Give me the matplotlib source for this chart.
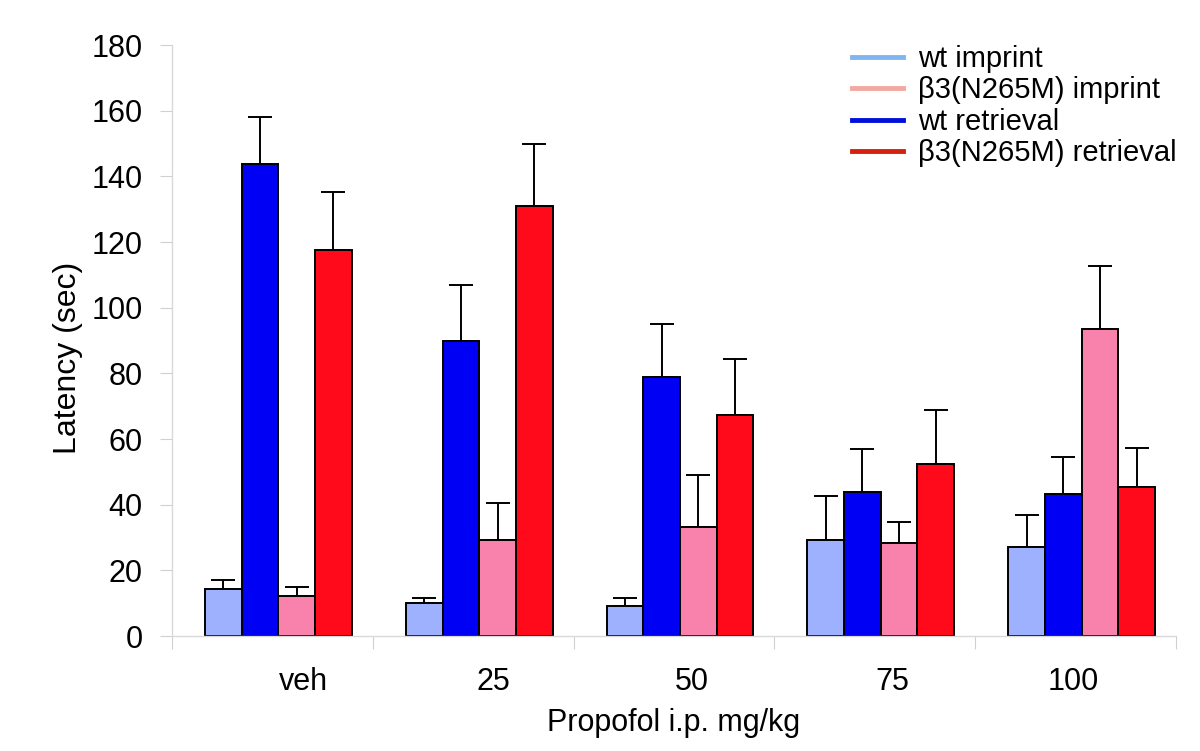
import numpy as np
import matplotlib
matplotlib.use("Agg")
import matplotlib.pyplot as plt
from matplotlib.lines import Line2D

plt.rcParams['font.family'] = ['Liberation Sans', 'DejaVu Sans']

# data
doses = ["veh", "25", "50", "75", "100"]
series = ["wt imprint", "β3(N265M) imprint", "wt retrieval", "β3(N265M) retrieval"]

wt_imprint = [14.4, 10.2, 9.2, 29.1, 27.0]
wt_imprint_err = [2.8, 1.4, 2.3, 13.5, 9.9]
wt_retrieval = [143.8, 90.0, 78.8, 44.0, 43.2]
wt_retrieval_err = [14.2, 17.0, 16.2, 12.9, 11.4]
b3_imprint = [12.2, 29.2, 33.2, 28.3, 93.6]
b3_imprint_err = [2.8, 11.2, 15.7, 6.4, 19.2]
b3_retrieval = [117.6, 131.0, 67.3, 52.4, 45.4]
b3_retrieval_err = [17.7, 19.0, 17.1, 16.4, 12.0]

# drawing order in each group (left to right)
bar_vals = [wt_imprint, wt_retrieval, b3_imprint, b3_retrieval]
bar_errs = [wt_imprint_err, wt_retrieval_err, b3_imprint_err, b3_retrieval_err]
bar_cols = ["#9db1ff", "#0000f5", "#f882ab", "#ff0a1a"]

legend_cols = ["#7fb6f2", "#f4a8a2", "#0010d8", "#d8200f"]

fig = plt.figure(figsize=(12, 7.51), dpi=100)
ax = fig.add_axes([0.1433, 0.1531, 0.8367, 0.7869])

x = np.arange(len(doses))
w = 0.1826
shift = 0.03
for k in range(4):
    pos = x + shift + (k - 1.5) * w
    ax.bar(pos, bar_vals[k], width=w, color=bar_cols[k], edgecolor="black",
           linewidth=1.4, zorder=2)
    ax.errorbar(pos, bar_vals[k], yerr=[np.zeros(len(doses)), bar_errs[k]],
                fmt="none", ecolor="black", elinewidth=1.4, capsize=8.6,
                capthick=1.4, zorder=1)

ax.set_xlim(-0.5, len(doses) - 0.5)
ax.set_ylim(0, 180)
ax.set_yticks(np.arange(0, 181, 20))

# group boundary ticks, labels placed separately
ax.set_xticks(np.arange(-0.5, len(doses), 1.0))
ax.set_xticklabels([])
label_off = [0.154, 0.1, 0.09, 0.085, -0.01]
ax.set_xticks(x + np.array(label_off), minor=True)
ax.set_xticklabels(doses, minor=True, fontsize=22)
ax.tick_params(axis="x", which="minor", length=0, pad=22)
ax.tick_params(axis="x", which="major", length=9, color="#d0d0d0", direction="out")
ax.tick_params(axis="y", length=9, color="#d0d0d0", labelsize=22, pad=12)

for s in ["top", "right"]:
    ax.spines[s].set_visible(False)
for s in ["left", "bottom"]:
    ax.spines[s].set_color("#d9d9d9")
    ax.spines[s].set_linewidth(1.0)

ax.set_ylabel("Latency (sec)", fontsize=23)
ax.yaxis.set_label_coords(-0.089, 0.47)
ax.set_xlabel("Propofol i.p. mg/kg", fontsize=22, labelpad=8)

handles = [Line2D([0], [0], color=c, linewidth=3.5) for c in legend_cols]
ax.legend(handles, series, loc="upper right", bbox_to_anchor=(1.018, 1.03),
          frameon=False, fontsize=21, handlelength=1.75, handletextpad=0.5,
          labelspacing=0.12, borderaxespad=0.2)

fig.savefig("out.png", dpi=100)
